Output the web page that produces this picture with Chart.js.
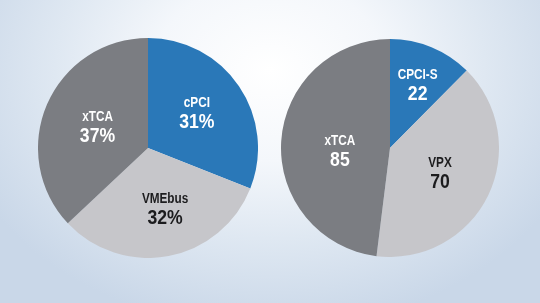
<!DOCTYPE html>
<html>
<head>
<meta charset="utf-8">
<script src="https://cdn.jsdelivr.net/npm/chart.js@4/dist/chart.umd.min.js"></script>
<style>
  html, body { margin:0; padding:0; }
  body {
    width:540px; height:303px; overflow:hidden; position:relative;
    background: radial-gradient(ellipse 330px 260px at 270px 70px, #ffffff 0%, #f4f7fb 35%, #dfe8f2 65%, #c9d7e8 100%);
  }
  .box { position:absolute; }
</style>
</head>
<body>
<div class="box" style="left:38px; top:38px; width:220px; height:220px;"><canvas id="c1"></canvas></div>
<div class="box" style="left:281px; top:39px; width:218px; height:218px;"><canvas id="c2"></canvas></div>
<script>
// Left pie: market share (%)
const leftLabels = ["cPCI", "VMEbus", "xTCA"];
const leftValues = [31, 32, 37];
const leftText = ["31%", "32%", "37%"];
// Right pie: counts
const rightLabels = ["CPCI-S", "VPX", "xTCA"];
const rightValues = [22, 70, 85];
const rightText = ["22", "70", "85"];

const sliceColors = ["#2a78b8", "#c6c6ca", "#7b7d82"];
const textColors = ["#ffffff", "#1c1c1e", "#ffffff"];

const FONT = '"Liberation Sans", Arial, "DejaVu Sans", sans-serif';

const labelPlugin = {
  id: 'sliceLabels',
  afterDatasetsDraw(chart, args, opts) {
    const ctx = chart.ctx;
    const meta = chart.getDatasetMeta(0);
    meta.data.forEach((arc, i) => {
      const mid = (arc.startAngle + arc.endAngle) / 2 + opts.shift[i] * Math.PI / 180;
      const r = arc.outerRadius * opts.frac[i];
      const x = arc.x + Math.cos(mid) * r;
      const y = arc.y + Math.sin(mid) * r;
      ctx.save();
      ctx.translate(x, y);
      ctx.scale(0.84, 1);
      ctx.fillStyle = textColors[i];
      ctx.textAlign = 'center';
      ctx.textBaseline = 'middle';
      ctx.font = 'bold 14px ' + FONT;
      ctx.fillText(opts.names[i], 0, -9);
      ctx.font = 'bold 21px ' + FONT;
      ctx.fillText(opts.values[i], 0, 10);
      ctx.restore();
    });
  }
};

function makePie(id, labels, values, texts, frac, shift) {
  new Chart(document.getElementById(id), {
    type: 'pie',
    data: {
      labels: labels,
      datasets: [{ data: values, backgroundColor: sliceColors, borderWidth: 0 }]
    },
    options: {
      responsive: true,
      maintainAspectRatio: false,
      animation: false,
      layout: { padding: 0 },
      plugins: {
        legend: { display: false },
        tooltip: { enabled: false },
        sliceLabels: { names: labels, values: texts, frac: frac, shift: shift }
      }
    },
    plugins: [labelPlugin]
  });
}

makePie('c1', leftLabels, leftValues, leftText, [0.55, 0.57, 0.5], [-2, -5, 0]);
makePie('c2', rightLabels, rightValues, rightText, [0.64, 0.51, 0.46], [1, 0, -6]);
</script>
</body>
</html>
